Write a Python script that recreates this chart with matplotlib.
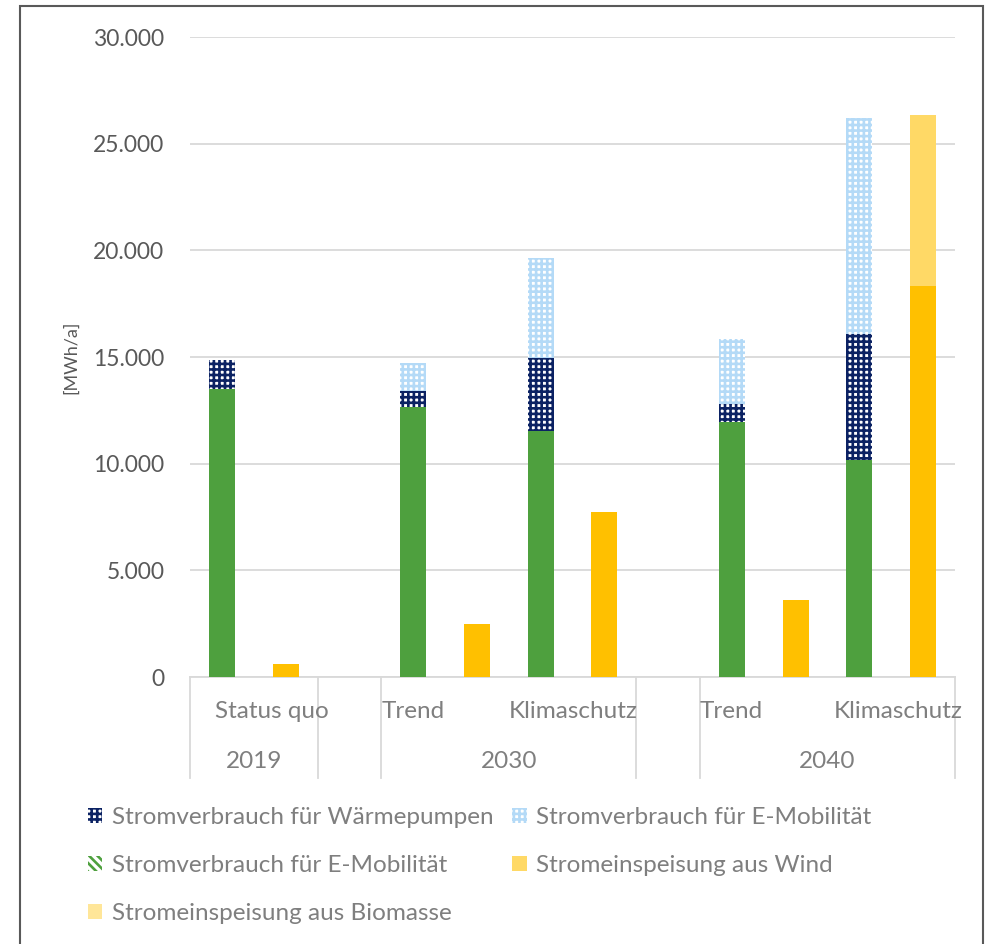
import matplotlib.pyplot as plt
from matplotlib.patches import Patch, Rectangle
from matplotlib.ticker import FuncFormatter
import matplotlib.transforms as mtransforms

# Daten (MWh/a)
szenarien = ['Status quo', 'Trend', 'Klimaschutz', 'Trend', 'Klimaschutz']
jahre = ['2019', '2030', '2030', '2040', '2040']
basis = [13500, 12660, 11530, 11950, 10170]
waermepumpen = [1360, 750, 3420, 850, 5910]
e_mobilitaet = [0, 1310, 4690, 3050, 10120]
wind = [610, 2480, 7730, 3610, 18330]
biomasse = [0, 0, 0, 0, 8020]

GRUEN = '#4EA03E'
NAVY = '#0B2263'
HELLBLAU = '#B4DAF7'
GELB = '#FFC000'
HELLGELB = '#FFD966'
GRAU = '#7F7F7F'
GITTER = '#D9D9D9'

plt.rcParams['font.family'] = ['Lato', 'DejaVu Sans']
plt.rcParams['hatch.linewidth'] = 1.9

fig = plt.figure(figsize=(9.85, 9.44), dpi=100)
ax = fig.add_axes([190 / 985, 1 - 677 / 944, 765 / 985, 640 / 944])

# Positionen: je Szenario zwei Slots, nach jedem Jahr ein leerer Slot
pos_verbrauch = []
slot = 0
for i, j in enumerate(jahre):
    if i > 0 and j != jahre[i - 1]:
        slot += 1
    pos_verbrauch.append(slot)
    slot += 2
pos_einspeisung = [p + 1 for p in pos_verbrauch]
n_slots = slot

b = 0.41
ax.bar(pos_verbrauch, basis, b, color=GRUEN, zorder=3)
unten = basis[:]
ax.bar(pos_verbrauch, waermepumpen, b, bottom=unten, facecolor='white',
       edgecolor=NAVY, hatch='+++', linewidth=0, zorder=3)
unten = [u + w for u, w in zip(unten, waermepumpen)]
ax.bar(pos_verbrauch, e_mobilitaet, b, bottom=unten, facecolor='white',
       edgecolor=HELLBLAU, hatch='+++', linewidth=0, zorder=3)
ax.bar(pos_einspeisung, wind, b, color=GELB, zorder=3)
ax.bar(pos_einspeisung, biomasse, b, bottom=wind, color=HELLGELB, zorder=3)

ax.set_xlim(-0.5, n_slots - 0.5)
ax.set_ylim(0, 30000)
ax.set_yticks(range(0, 30001, 5000))
ax.yaxis.set_major_formatter(FuncFormatter(lambda v, p: f'{int(v):,}'.replace(',', '.')))
ax.grid(axis='y', color=GITTER, linewidth=1.3, zorder=0)
ax.set_xticks([])
ax.tick_params(axis='y', length=0, labelsize=16.5, labelcolor='#595959', pad=18.5)
for s in ['top', 'right', 'left']:
    ax.spines[s].set_visible(False)
ax.spines['bottom'].set_color(GITTER)
ax.spines['bottom'].set_linewidth(1.3)
ax.set_ylabel('[MWh/a]', fontsize=13, color='#595959', labelpad=10)

# mehrstufige Kategorienachse
trans = mtransforms.blended_transform_factory(ax.transData, ax.transAxes)
tiefe = -101 / 640
grenzen = [-0.5]
for i, j in enumerate(jahre):
    if i > 0 and j != jahre[i - 1]:
        grenzen.append(pos_verbrauch[i] - 1.5)
        grenzen.append(pos_verbrauch[i] - 0.5)
grenzen.append(n_slots - 0.5)
for g in grenzen:
    ax.plot([g, g], [0, tiefe], transform=trans, color=GITTER, lw=1.3, clip_on=False)

verschiebung = [0.39, 0.0, 0.0, 0.0, 0.1]
for i, s in enumerate(szenarien):
    ax.text(pos_verbrauch[i] - 0.5 + verschiebung[i], -35 / 640, s, transform=trans,
            ha='left', va='center', fontsize=17.5, color=GRAU)
for j in dict.fromkeys(jahre):
    idx = [i for i, jj in enumerate(jahre) if jj == j]
    mitte = (pos_verbrauch[idx[0]] + pos_einspeisung[idx[-1]]) / 2
    ax.text(mitte, -85 / 640, j, transform=trans, ha='center', va='center',
            fontsize=17.5, color=GRAU)

# Legende
handles = [
    Patch(facecolor='white', edgecolor=NAVY, hatch='+++', linewidth=0, label='Stromverbrauch für Wärmepumpen'),
    Patch(facecolor='white', edgecolor=GRUEN, hatch='\\\\\\\\', linewidth=0, label='Stromverbrauch für E-Mobilität'),
    Patch(facecolor='#FFE699', label='Stromeinspeisung aus Biomasse'),
    Patch(facecolor='white', edgecolor=HELLBLAU, hatch='+++', linewidth=0, label='Stromverbrauch für E-Mobilität'),
    Patch(facecolor=HELLGELB, label='Stromeinspeisung aus Wind'),
]
leg = fig.legend(handles=handles, ncol=2, loc='upper left', bbox_to_anchor=(66 / 985, 1 - 785 / 944),
                 frameon=False, fontsize=17.5, handlelength=0.6, handleheight=0.6,
                 handletextpad=0.4, columnspacing=0.75, labelspacing=1.12)
for t in leg.get_texts():
    t.set_color(GRAU)

# Rahmen
fig.patches.append(Rectangle((20 / 985, -0.01), 963 / 985, 1 - 6 / 944 + 0.01,
                             transform=fig.transFigure, fill=False, edgecolor='#595959', lw=1.5))

fig.savefig('out.png', dpi=100)
